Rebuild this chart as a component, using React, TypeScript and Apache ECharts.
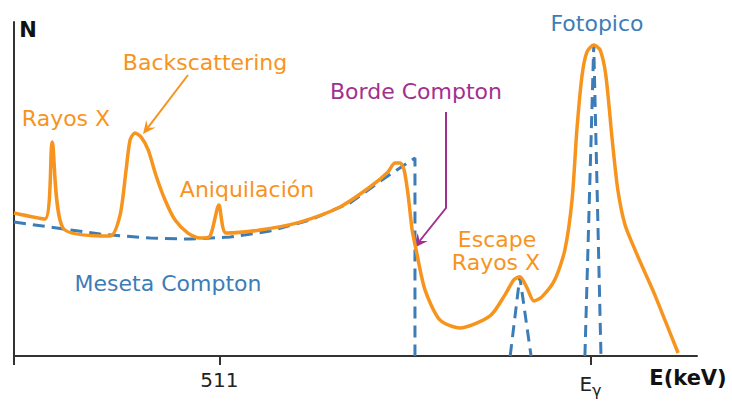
import React, { useEffect, useRef } from "react";
import * as echarts from "echarts";

// Measured gamma spectrum (energy in keV, counts in relative units 0-100)
const spectrum: [number, number][] = [
  [0, 42.8], [77, 41.0], [95, 64.1], [122, 38.3], [239, 35.9],
  [264, 42.2], [279, 55.7], [289, 64.7], [301, 66.8], [316, 65.6],
  [334, 61.7], [353, 54.2], [376, 46.7], [401, 40.7], [433, 36.8],
  [463, 35.3], [488, 35.9], [510, 45.2], [528, 36.8], [612, 37.7],
  [712, 40.1], [811, 44.6], [886, 50.6], [931, 55.1], [948, 57.8],
  [961, 57.8], [971, 55.7], [981, 48.2], [991, 37.7], [1001, 31.7],
  [1023, 19.8], [1060, 10.8], [1110, 8.4], [1185, 12.0], [1222, 18.3],
  [1244, 22.8], [1259, 23.7], [1277, 20.4], [1294, 16.5], [1314, 17.7],
  [1346, 22.8], [1371, 31.7], [1389, 46.7], [1401, 67.7], [1414, 84.1],
  [1426, 91.0], [1443, 93.1], [1459, 91.6], [1473, 84.1], [1489, 64.7],
  [1503, 49.7], [1521, 39.2], [1546, 31.7], [1570, 25.1], [1595, 18.3],
  [1620, 10.8], [1653, 0.9],
];

// Ideal components: Compton continuum, X-ray escape line, photopeak
const comptonPlateau: [number, number][] = [
  [0, 40.1], [90, 38.6], [214, 36.5], [339, 35.3], [438, 35.0],
  [538, 35.6], [637, 37.4], [737, 40.7], [836, 45.8], [923, 53.3],
  [998, 59.3], [998, 0],
];
const escapeLine: [number, number][] = [[1235, 0], [1259, 23.7], [1287, 0]];
const photopeakLine: [number, number][] = [[1421, 0], [1443, 93.1], [1461, 0]];

const E_GAMMA = 1435;
const tickValues = [0, 511, E_GAMMA];
const labelValues = [511, E_GAMMA];

const ORANGE = "#F7941D";
const BLUE = "#3D7DB7";
const PURPLE = "#A2308F";
const AXIS = "#333333";
const FONT = "DejaVu Sans";

export default function App() {
  const ref = useRef<HTMLDivElement>(null);

  useEffect(() => {
    document.body.style.margin = "0";
    if (!ref.current) return;
    const chart = echarts.init(ref.current, undefined, { renderer: "svg" });

    const text = (x: number, y: number, s: string, color: string, extra: any = {}) => ({
      type: "text",
      x,
      y,
      style: {
        text: s,
        fill: color,
        font: `22px "${FONT}"`,
        align: "center",
        verticalAlign: "middle",
        ...extra,
      },
    });

    const dashed = (data: [number, number][]) => ({
      type: "line",
      data,
      symbol: "none",
      z: 2,
      lineStyle: { color: BLUE, width: 3, type: [12, 7] },
    });

    chart.setOption({
      animation: false,
      grid: { left: 14, right: 35, top: 22, bottom: 50 },
      xAxis: {
        type: "value",
        min: 0,
        max: 1700,
        axisLine: { show: true, lineStyle: { color: AXIS, width: 2 } },
        axisTick: {
          show: true,
          customValues: tickValues,
          length: 9,
          lineStyle: { color: AXIS, width: 2 },
        },
        axisLabel: {
          show: true,
          customValues: labelValues,
          margin: 14,
          color: "#222",
          fontFamily: FONT,
          fontSize: 20,
          formatter: (v: number) => (v === E_GAMMA ? "{e|E}{g|γ}" : String(v)),
          rich: {
            e: { fontSize: 20, fontFamily: FONT, color: "#222" },
            g: { fontSize: 16, fontFamily: FONT, color: "#222", padding: [12, 0, 0, 0] },
          },
        },
        splitLine: { show: false },
      },
      yAxis: {
        type: "value",
        min: 0,
        max: 100,
        axisLine: { show: true, lineStyle: { color: AXIS, width: 2 } },
        axisTick: { show: false },
        axisLabel: { show: false },
        splitLine: { show: false },
      },
      series: [
        dashed(comptonPlateau),
        dashed(escapeLine),
        dashed(photopeakLine),
        {
          type: "line",
          data: spectrum,
          symbol: "none",
          smooth: 0.25,
          z: 3,
          lineStyle: { color: ORANGE, width: 3.5 },
        },
      ],
      graphic: [
        text(28, 30, "N", "#111", { font: `bold 21px "${FONT}"` }),
        text(688, 378, "E(keV)", "#111", { font: `bold 21px "${FONT}"` }),
        text(66, 118, "Rayos X", ORANGE),
        text(205, 62, "Backscattering", ORANGE),
        text(247, 189, "Aniquilación", ORANGE),
        text(497, 239, "Escape", ORANGE),
        text(496, 262, "Rayos X", ORANGE),
        text(416, 91, "Borde Compton", PURPLE),
        text(168, 283, "Meseta Compton", BLUE),
        text(597, 23, "Fotopico", BLUE),
        // Backscattering pointer
        {
          type: "line",
          shape: { x1: 188, y1: 75, x2: 147.9, y2: 127.7 },
          style: { stroke: ORANGE, lineWidth: 2 },
        },
        {
          type: "polygon",
          shape: { points: [[143, 134], [155.7, 127.4], [147.9, 127.7], [146.3, 120.0]] },
          style: { fill: ORANGE },
        },
        // Compton edge pointer
        {
          type: "polyline",
          shape: { points: [[446, 112], [446, 208], [419.6, 241.0]] },
          style: { stroke: PURPLE, lineWidth: 2, fill: null },
        },
        {
          type: "polygon",
          shape: { points: [[414, 248], [427.8, 241.1], [419.6, 241.0], [417.7, 233.0]] },
          style: { fill: PURPLE },
        },
      ],
    });

    return () => chart.dispose();
  }, []);

  return <div ref={ref} style={{ width: 732, height: 406 }} />;
}
